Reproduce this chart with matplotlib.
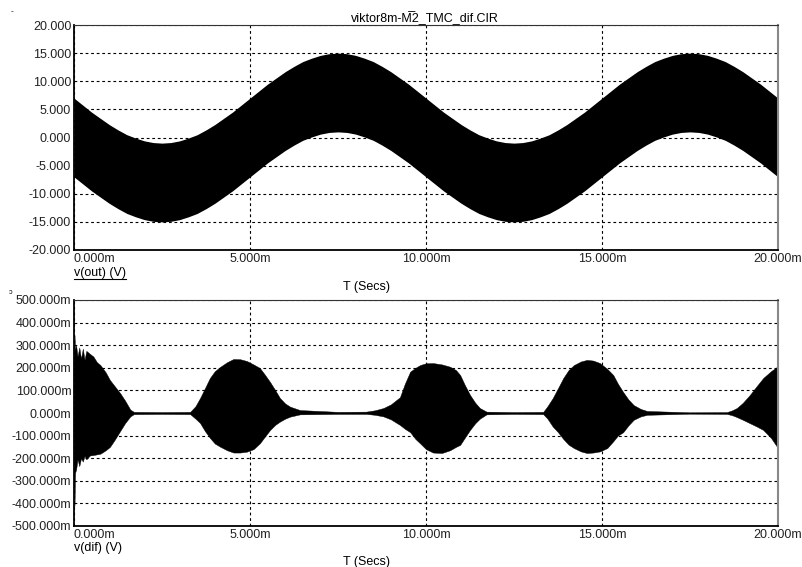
import matplotlib.pyplot as plt
from matplotlib.lines import Line2D

plt.rcParams['font.family'] = ['Liberation Sans', 'DejaVu Sans']
plt.rcParams['font.size'] = 9

# v(out): envelope of the band, time in ms (0.25 ms steps), values in V
t_out = [i * 0.25 for i in range(81)]
out_hi = [7.0, 5.75, 4.5, 3.4, 2.3, 1.35, 0.5, -0.1, -0.6, -0.9, -1.0, -0.9, -0.6,
          -0.1, 0.5, 1.35, 2.3, 3.4, 4.5, 5.75,
          7.0, 8.25, 9.5, 10.6, 11.7, 12.65, 13.5, 14.1, 14.6, 14.9, 15.0, 14.9, 14.6,
          14.1, 13.5, 12.65, 11.7, 10.6, 9.5, 8.25,
          7.0, 5.75, 4.5, 3.4, 2.3, 1.35, 0.5, -0.1, -0.6, -0.9, -1.0, -0.9, -0.6,
          -0.1, 0.5, 1.35, 2.3, 3.4, 4.5, 5.75,
          7.0, 8.25, 9.5, 10.6, 11.7, 12.65, 13.5, 14.1, 14.6, 14.9, 15.0, 14.9, 14.6,
          14.1, 13.5, 12.65, 11.7, 10.6, 9.5, 8.25, 7.0]
out_lo = [-7.0, -8.25, -9.5, -10.6, -11.7, -12.65, -13.5, -14.1, -14.6, -14.9, -15.0,
          -14.9, -14.6, -14.1, -13.5, -12.65, -11.7, -10.6, -9.5, -8.25,
          -7.0, -5.75, -4.5, -3.4, -2.3, -1.35, -0.5, 0.1, 0.6, 0.9, 1.0, 0.9, 0.6,
          0.1, -0.5, -1.35, -2.3, -3.4, -4.5, -5.75,
          -7.0, -8.25, -9.5, -10.6, -11.7, -12.65, -13.5, -14.1, -14.6, -14.9, -15.0,
          -14.9, -14.6, -14.1, -13.5, -12.65, -11.7, -10.6, -9.5, -8.25,
          -7.0, -5.75, -4.5, -3.4, -2.3, -1.35, -0.5, 0.1, 0.6, 0.9, 1.0, 0.9, 0.6,
          0.1, -0.5, -1.35, -2.3, -3.4, -4.5, -5.75, -7.0]

# v(dif): burst envelopes, time in ms, values in mV
t_dif = [0.0, 0.015, 0.03, 0.06, 0.1, 0.15, 0.2, 0.25, 0.3, 0.35, 0.45, 0.55, 0.65,
         0.75, 0.9, 1.02, 1.15, 1.31, 1.45,
         1.6, 1.7, 2.5, 3.3, 3.45, 3.58, 3.72, 3.86, 4.0, 4.15, 4.35, 4.53, 4.72,
         4.91, 5.1, 5.28, 5.42, 5.57, 5.72, 5.85, 6.0, 6.14, 6.42, 7.5, 8.3, 8.55,
         8.79, 9.0, 9.26, 9.4, 9.55, 9.7, 9.83, 10.0, 10.2, 10.45, 10.68, 10.85,
         10.97, 11.1, 11.25, 11.4, 11.53, 11.72, 12.5, 13.33, 13.45, 13.6, 13.75,
         13.9, 14.05, 14.2, 14.4, 14.57, 14.75, 14.94, 15.15, 15.32, 15.45, 15.6,
         15.75, 15.9, 16.1, 16.28, 17.5, 18.55, 18.7, 18.83, 19.0, 19.2, 19.4,
         19.58, 19.8, 19.97, 20.0]
dif_hi = [250, 345, 280, 300, 250, 290, 240, 285, 235, 275, 262, 250, 225,
          212, 180, 146, 120, 88, 55,
          15, 5, 4, 5, 30, 66, 110, 155, 185, 204, 225, 239, 238, 230, 215, 199,
          170, 137, 100, 66, 42, 28, 13, 5, 6, 12, 22, 38, 70, 130, 183, 200, 212,
          220, 221, 215, 205, 190, 168, 125, 80, 45, 22, 6, 4, 5, 30, 66, 110,
          155, 190, 212, 228, 235, 232, 221, 195, 168, 130, 93, 60, 35, 18, 9, 3,
          4, 12, 22, 45, 80, 120, 155, 185, 204, 205]
dif_lo = [-250, -410, -265, -250, -205, -235, -200, -215, -190, -205, -188, -186,
          -183, -180, -165, -150, -120,
          -80, -45, -15, -5, -4, -5, -25, -44, -80, -110, -135, -149, -165, -175,
          -175, -171, -160, -134, -105, -75, -52, -38, -25, -16, -6, -4, -4, -8,
          -15, -28, -53, -70, -85, -115, -134, -160, -175, -177, -165, -150, -141,
          -110, -75, -45, -25, -6, -4, -5, -25, -60, -85, -115, -140, -155, -170,
          -177, -175, -170, -155, -125, -100, -85, -55, -30, -15, -8, -3, -4, -10,
          -18, -30, -45, -60, -75, -110, -149, -152]

x_ticks = [0, 5, 10, 15, 20]
x_labels = ['0.000m', '5.000m', '10.000m', '15.000m', '20.000m']
out_ticks = [-20, -15, -10, -5, 0, 5, 10, 15, 20]
out_labels = ['-20.000', '-15.000', '-10.000', '-5.000', '0.000', '5.000',
              '10.000', '15.000', '20.000']
dif_ticks = [-500, -400, -300, -200, -100, 0, 100, 200, 300, 400, 500]
dif_labels = ['%d.000m' % v for v in dif_ticks]

W, H = 803, 567
fig = plt.figure(figsize=(W / 100, H / 100), dpi=100)


def fx(px):
    return px / W


def fy(py):
    return 1 - py / H


def style_axes(ax, yticks, ylabels, ylim):
    ax.set_xlim(0, 20)
    ax.set_ylim(*ylim)
    ax.set_xticks(x_ticks)
    ax.set_xticklabels(x_labels)
    ax.set_yticks(yticks)
    ax.set_yticklabels(ylabels)
    ax.tick_params(length=0, pad=2, labelsize=9, colors='#222222')
    ax.grid(True, color='black', linestyle=(0, (2.5, 2.5)), linewidth=0.8)
    ax.spines['left'].set_color('black')
    ax.spines['bottom'].set_color('black')
    ax.spines['left'].set_linewidth(1.3)
    ax.spines['bottom'].set_linewidth(1.3)
    ax.spines['top'].set_color('#333333')
    ax.spines['right'].set_color('#888888')
    ax.spines['right'].set_linewidth(1.5)
    labs = ax.get_xticklabels()
    labs[0].set_horizontalalignment('left')


ax1 = fig.add_axes([fx(74), fy(250), fx(704), 225 / H])
ax1.fill_between(t_out, out_lo, out_hi, color='black', linewidth=0)
style_axes(ax1, out_ticks, out_labels, (-20, 20))

ax2 = fig.add_axes([fx(74), fy(526), fx(704), 226 / H])
ax2.fill_between(t_dif, dif_lo, dif_hi, color='black', linewidth=0.3)
style_axes(ax2, dif_ticks, dif_labels, (-500, 500))

fig.text(fx(425), fy(18), 'viktor8m-M\u03052_TMC_dif.CIR', ha='center', va='center',
         fontsize=9)
fig.text(fx(74), fy(273), 'v(out) (V)', ha='left', va='center', fontsize=9)
fig.add_artist(Line2D([fx(74), fx(126)], [fy(279), fy(279)], color='black', lw=0.8))
fig.text(fx(367), fy(287), 'T (Secs)', ha='center', va='center', fontsize=9)
fig.text(fx(74), fy(548), 'v(dif) (V)', ha='left', va='center', fontsize=9)
fig.text(fx(367), fy(562), 'T (Secs)', ha='center', va='center', fontsize=9)
fig.text(fx(12), fy(12), '-', ha='center', va='center', fontsize=6)
fig.text(fx(11), fy(292), '\u0254', ha='center', va='center', fontsize=5)

fig.savefig('out.png', dpi=100)
